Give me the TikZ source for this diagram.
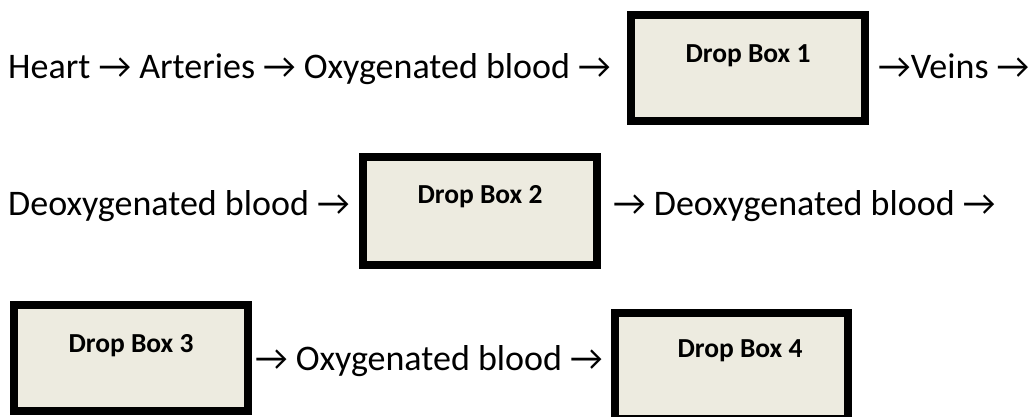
\documentclass[tikz,border=0pt]{standalone}
\usepackage{fontspec}
\setmainfont{Carlito}
\definecolor{boxfill}{HTML}{EDEBE0}
\tikzset{
  dropbox/.style={draw=black, line width=8pt, fill=boxfill, inner sep=0pt, minimum width=234pt, minimum height=106pt},
  boxlabel/.style={inner sep=0pt, anchor=base, font=\fontsize{27.5}{30}\selectfont\bfseries},
  flowtext/.style={inner sep=0pt, anchor=base west, font=\fontsize{36}{40}\selectfont}
}
\begin{document}
\begin{tikzpicture}[x=1pt,y=-1pt]
\path[clip] (0,0) rectangle (1032,417);
\fill[white] (0,0) rectangle (1032,417);
% boxes
\node[dropbox] (b1) at (748,68) {};
\node[dropbox, minimum height=108pt] (b2) at (480,211) {};
\node[dropbox] (b3) at (131,358) {};
\node[dropbox, minimum width=233pt] (b4) at (731.5,366) {};
% box labels
\node[boxlabel] (l1) at (748,63) {Drop Box 1};
\node[boxlabel] (l2) at (480,203) {Drop Box 2};
\node[boxlabel] (l3) at (131,352) {Drop Box 3};
\node[boxlabel] (l4) at (740,357) {Drop Box 4};
% flow text
\node[flowtext] (r1a) at (8,79) {Heart → Arteries → Oxygenated blood →};
\node[flowtext] (r1b) at (878,79) {→Veins →};
\node[flowtext] (r2a) at (8,215) {Deoxygenated blood →};
\node[flowtext] (r2b) at (613,215) {→ Deoxygenated blood →};
\node[flowtext] (r3) at (255,370) {→ Oxygenated blood →};
\end{tikzpicture}
\end{document}
